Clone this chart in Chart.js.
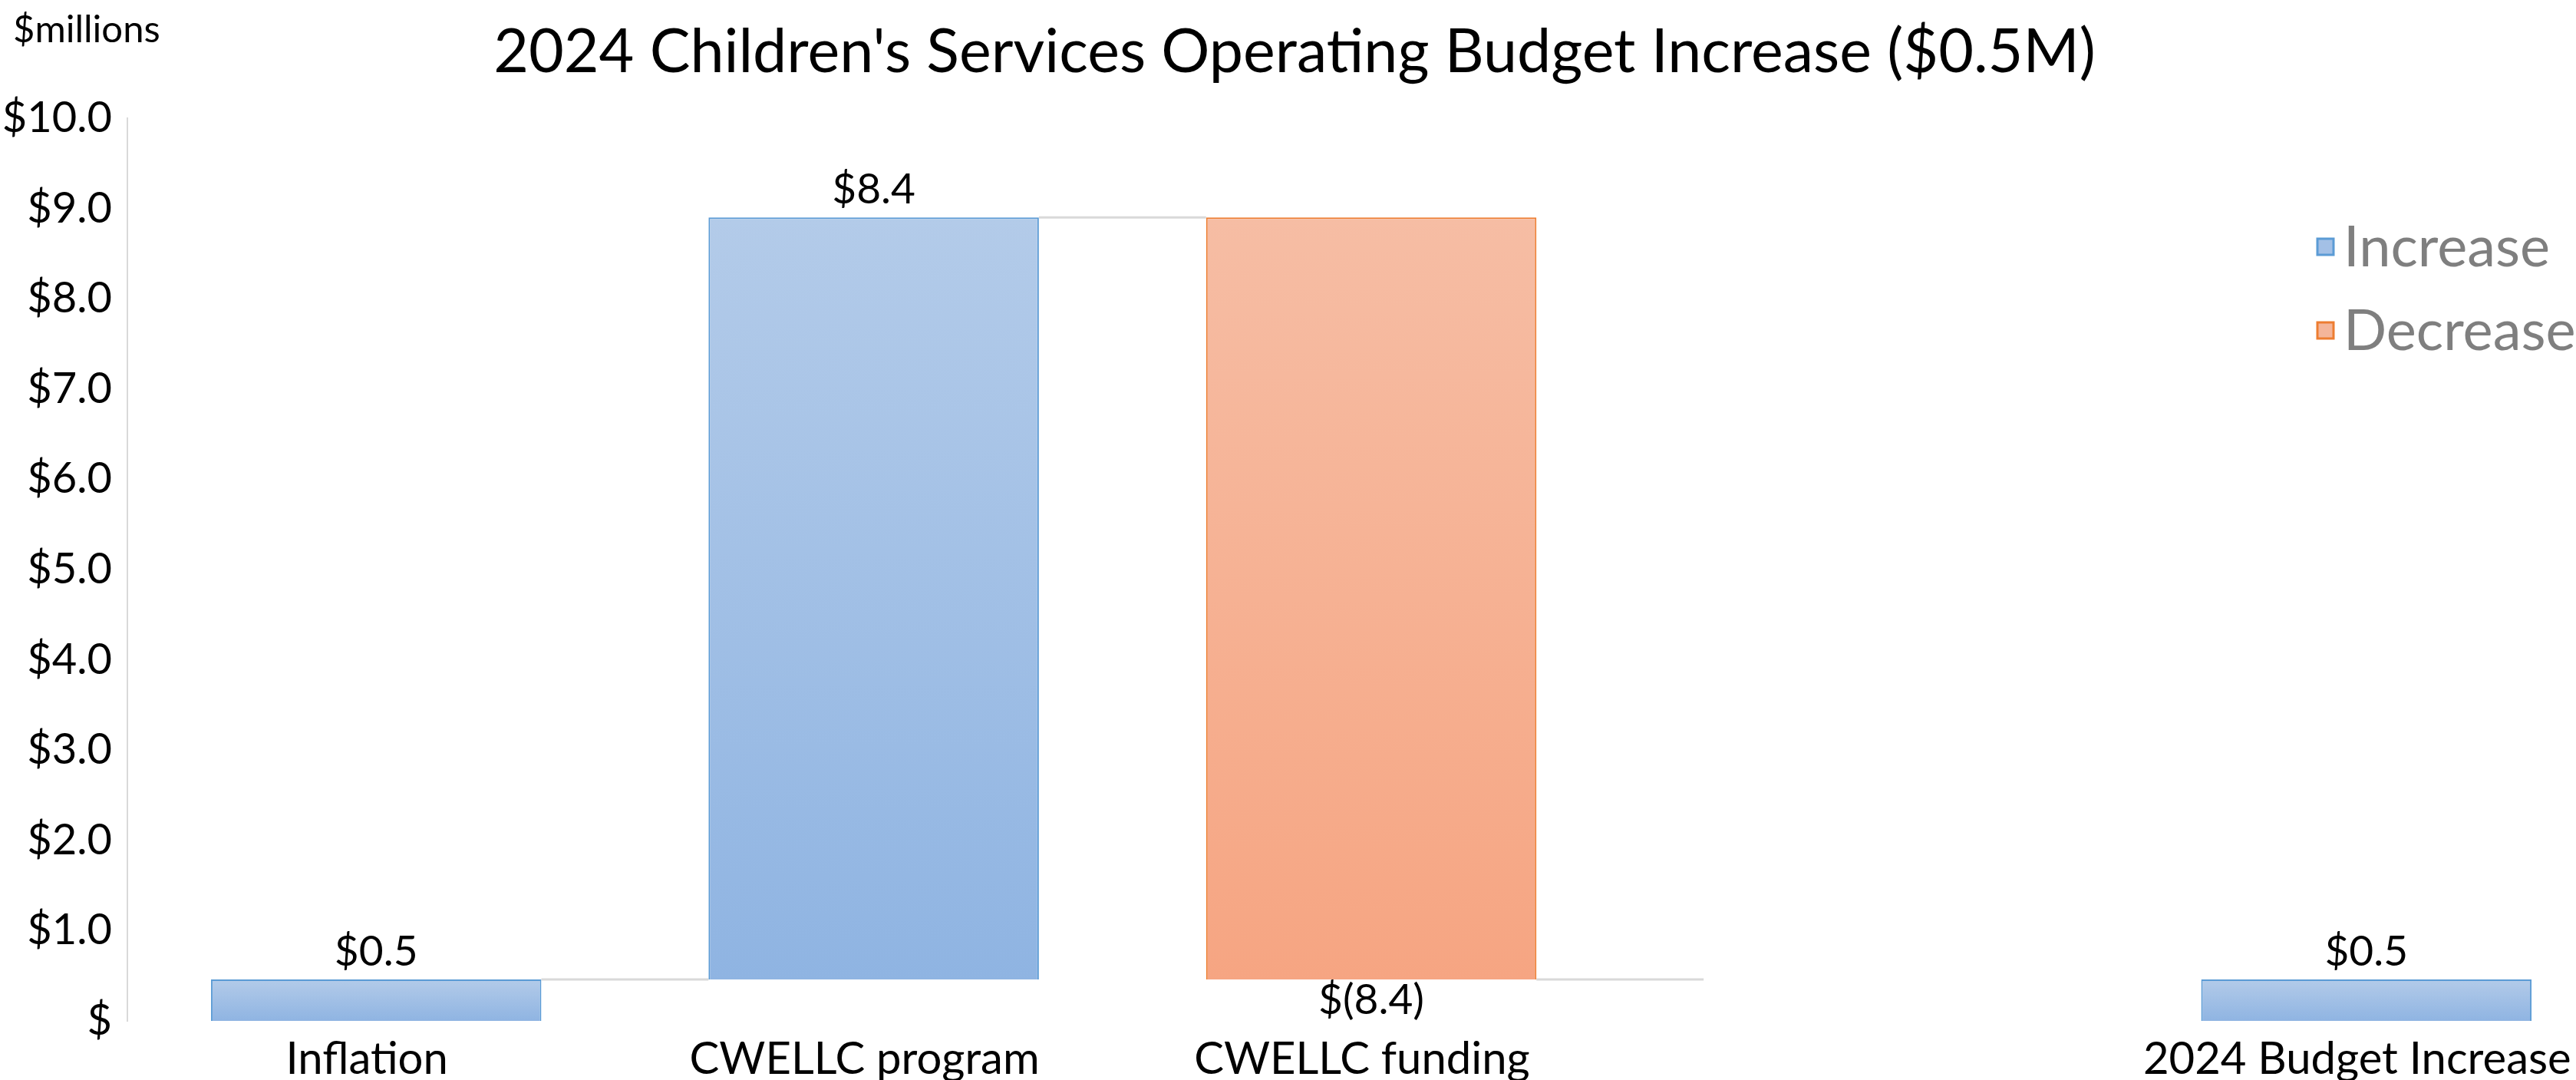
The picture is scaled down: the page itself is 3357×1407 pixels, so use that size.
<!DOCTYPE html>
<html>
<head>
<meta charset="utf-8">
<script src="https://cdn.jsdelivr.net/npm/chart.js@4.4.1/dist/chart.umd.min.js"></script>
<style>
  html, body { margin: 0; padding: 0; background: #fff; overflow: hidden; }
  #wrap { width: 3420px; height: 1407px; }
</style>
</head>
<body>
<div id="wrap"><canvas id="chart"></canvas></div>
<script>
// 📋 DATA
const categories = ["Inflation", "CWELLC program", "CWELLC funding", "", "2024 Budget Increase"];
const changes = [0.46, 8.44, -8.44, null, null];
const isTotal = [false, false, false, false, true];
const seriesNames = ["Increase", "Decrease"];

const FONT = "Lato, 'Open Sans', sans-serif";

// 🔧 build waterfall ranges from the changes
let running = 0;
const upRanges = [];
const downRanges = [];
const levels = [];
const shownValues = [];

changes.forEach((v, i) => {
  if (isTotal[i]) {
    upRanges.push([0, running]);
    downRanges.push(null);
    shownValues.push(running);
  } else if (v === null) {
    upRanges.push(null);
    downRanges.push(null);
    shownValues.push(null);
  } else {
    const start = running;
    running += v;
    if (v >= 0) {
      upRanges.push([start, running]);
      downRanges.push(null);
    } else {
      upRanges.push(null);
      downRanges.push([running, start]);
    }
    shownValues.push(v);
  }
  levels.push(running);
});

function money(v) {
  if (v < 0) return "$(" + Math.abs(v).toFixed(1) + ")";
  return "$" + v.toFixed(1);
}

// 🎨 vertical gradient for each bar
function gradient(c1, c2) {
  return ctx => {
    const chart = ctx.chart;
    const raw = ctx.raw;
    if (!chart.chartArea || !Array.isArray(raw)) return c2;
    const y = chart.scales.y;
    const top = y.getPixelForValue(Math.max(...raw));
    const bot = y.getPixelForValue(Math.min(...raw));
    const g = chart.ctx.createLinearGradient(0, top, 0, bot);
    g.addColorStop(0, c1);
    g.addColorStop(1, c2);
    return g;
  };
}

// 🔗 connector lines
const connectors = {
  id: "connectors",
  beforeDatasetsDraw(chart) {
    const { ctx } = chart;
    const x = chart.scales.x;
    const y = chart.scales.y;
    const metaUp = chart.getDatasetMeta(0);
    const half = metaUp.data[0].width / 2;
    ctx.save();
    ctx.strokeStyle = "#d9d9d9";
    ctx.lineWidth = 3;
    for (let i = 0; i < categories.length - 1; i++) {
      if (shownValues[i] === null || isTotal[i + 1]) continue;
      const yy = y.getPixelForValue(levels[i]);
      ctx.beginPath();
      ctx.moveTo(x.getPixelForValue(i) + half, yy);
      ctx.lineTo(x.getPixelForValue(i + 1) - half, yy);
      ctx.stroke();
    }
    ctx.restore();
  }
};

// 🔝 value labels, title, legend
const extras = {
  id: "extras",
  afterDatasetsDraw(chart) {
    const { ctx } = chart;
    ctx.save();
    ctx.fillStyle = "#000";
    ctx.textAlign = "center";
    ctx.textBaseline = "middle";
    ctx.font = "55px " + FONT;
    chart.data.datasets.forEach((ds, d) => {
      chart.getDatasetMeta(d).data.forEach((bar, i) => {
        if (!ds.data[i]) return;
        const top = Math.min(bar.y, bar.base);
        const bot = Math.max(bar.y, bar.base);
        const txt = money(shownValues[i]);
        if (d === 0) ctx.fillText(txt, bar.x, top - 36);
        else ctx.fillText(txt, bar.x, bot + 27);
      });
    });

    // title
    ctx.font = "79px " + FONT;
    ctx.fillText("2024 Children's Services Operating Budget Increase ($0.5M)", 1687, 69);

    // units
    ctx.textAlign = "left";
    ctx.font = "49px " + FONT;
    ctx.fillText("$millions", 17, 39);

    // legend
    ctx.font = "74px " + FONT;
    chart.data.datasets.forEach((ds, d) => {
      const cy = 321 + d * 109;
      ctx.fillStyle = ds.legendFill;
      ctx.fillRect(3020, cy - 10, 21, 21);
      ctx.strokeStyle = ds.borderColor;
      ctx.lineWidth = 3;
      ctx.strokeRect(3020, cy - 10, 21, 21);
      ctx.fillStyle = "#7f7f7f";
      ctx.fillText(ds.label, 3054, cy + 2);
    });
    ctx.restore();
  }
};

// 📊 CHART
new Chart(document.getElementById("chart"), {
  type: "bar",
  data: {
    labels: categories,
    datasets: [
      {
        label: seriesNames[0],
        data: upRanges,
        backgroundColor: gradient("#b3cbe9", "#8fb4e2"),
        legendFill: "#a3c0e6",
        borderColor: "#5b9bd5",
        borderWidth: 2
      },
      {
        label: seriesNames[1],
        data: downRanges,
        backgroundColor: gradient("#f6bda4", "#f6a582"),
        legendFill: "#f4b59a",
        borderColor: "#ed7d31",
        borderWidth: 2
      }
    ]
  },
  options: {
    responsive: true,
    maintainAspectRatio: false,
    devicePixelRatio: 1,
    animation: false,
    layout: { padding: { top: 154, right: 12, bottom: 0, left: 0 } },
    datasets: {
      bar: { grouped: false, categoryPercentage: 1, barPercentage: 0.664 }
    },
    plugins: {
      legend: { display: false },
      title: { display: false },
      tooltip: { enabled: false }
    },
    scales: {
      x: {
        grid: { display: false, drawTicks: false },
        border: { display: false },
        ticks: {
          color: "#000",
          font: { family: FONT, size: 58 },
          padding: 15,
          labelOffset: -12,
          maxRotation: 0,
          autoSkip: false
        },
        afterFit(scale) { scale.height = 77; }
      },
      y: {
        min: 0,
        max: 10,
        grid: { display: false, drawTicks: false },
        border: { display: true, color: "#d9d9d9", width: 2 },
        ticks: {
          stepSize: 1,
          color: "#000",
          font: { family: FONT, size: 56 },
          padding: 20,
          callback: v => v === 0 ? "$" : "$" + v.toFixed(1)
        },
        afterFit(scale) { scale.width = 166; }
      }
    }
  },
  plugins: [connectors, extras]
});
</script>
</body>
</html>
